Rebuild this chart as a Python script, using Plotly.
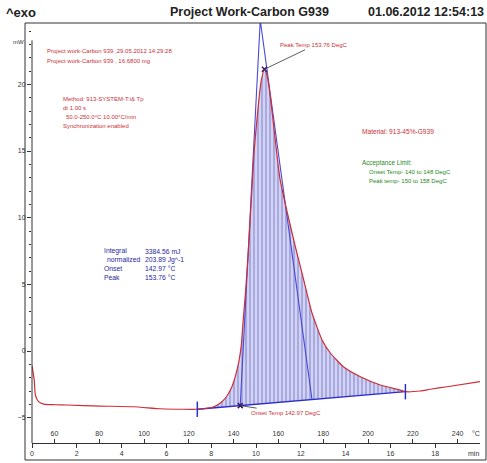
import plotly.graph_objects as go
import numpy as np

# ---------------- data ----------------
time_min = [0.0, 0.10, 0.15, 0.29, 0.52, 1.04, 1.56, 3.05, 4.54, 5.73, 6.75, 7.38,
            7.74, 8.09, 8.41, 8.67, 8.90, 9.08, 9.23, 9.34, 9.43, 9.54, 9.66, 9.79,
            9.92, 10.04, 10.15, 10.24, 10.376, 10.46, 10.57, 10.76, 10.91, 11.08, 11.40,
            11.76, 12.13, 12.50, 12.95, 13.32, 13.90, 14.66, 15.55, 16.44, 16.67,
            17.34, 17.78, 18.53, 20.0]
heat_flow_mw = [-1.1, -2.18, -3.30, -3.80, -3.98, -4.03, -4.05, -4.13, -4.18, -4.33, -4.37, -4.37,
                -4.31, -4.20, -3.90, -3.45, -2.78, -1.88, -0.83, 0.38, 2.33, 4.58, 7.58, 11.33,
                15.08, 17.33, 19.20, 20.33, 21.13, 20.86, 19.96, 17.33, 15.08, 12.83, 10.35,
                7.80, 5.33, 2.85, 0.83, -0.15, -1.18, -1.93, -2.55, -2.93, -3.05,
                -3.00, -2.87, -2.68, -2.30]

baseline_t = [7.38, 16.67]
baseline_mw = [-4.37, -3.05]

onset_temp = 142.97
peak_temp = 153.76
peak_mw = 21.13
tangent_apex_t = 10.19
tangent_apex_mw = 24.8
right_tangent_foot_t = 12.50

time_ticks = [0, 2, 4, 6, 8, 10, 12, 14, 16, 18]
temp_ticks = [60, 80, 100, 120, 140, 160, 180, 200, 220, 240]
mw_ticks = [-5, 0, 5, 10, 15, 20]

start_temp = 50.0   # °C
rate = 10.0         # °C/min

# ---------------- derived ----------------
def temp_to_time(T):
    return (T - start_temp) / rate

def base_at(t):
    return float(np.interp(t, baseline_t, baseline_mw))

onset_t = temp_to_time(onset_temp)
peak_t = temp_to_time(peak_temp)

t_arr = np.array(time_min)
m_arr = np.array(heat_flow_mw)
mask = (t_arr >= baseline_t[0]) & (t_arr <= baseline_t[1])

RED = "#cc2f38"
BLUE = "#2d2dc8"
FONT_N = "Liberation Sans Narrow, Arial Narrow, Liberation Sans, Arial, sans-serif"

fig = go.Figure()

# baseline
fig.add_trace(go.Scatter(x=baseline_t, y=baseline_mw, mode="lines",
                         line=dict(color=BLUE, width=1.3), hoverinfo="skip"))
# hatched integration area
fig.add_trace(go.Scatter(x=t_arr[mask], y=m_arr[mask], mode="lines",
                         line=dict(color="rgba(0,0,0,0)", width=0, shape="spline", smoothing=0.5),
                         fill="tonexty", fillcolor="#d2d3ee",
                         fillpattern=dict(shape="|", size=4, solidity=0.28,
                                          fgcolor="#3a3ac4", bgcolor="#d2d3ee"),
                         hoverinfo="skip"))
# tangents
fig.add_trace(go.Scatter(x=[onset_t, tangent_apex_t, right_tangent_foot_t],
                         y=[base_at(onset_t), tangent_apex_mw, base_at(right_tangent_foot_t)],
                         mode="lines", line=dict(color="#4a4ad6", width=1.1),
                         hoverinfo="skip"))
# DSC curve
fig.add_trace(go.Scatter(x=time_min, y=heat_flow_mw, mode="lines",
                         line=dict(color=RED, width=1.2, shape="spline", smoothing=0.5),
                         hoverinfo="skip"))
# baseline limit markers
fig.add_trace(go.Scatter(x=baseline_t, y=baseline_mw, mode="markers",
                         marker=dict(symbol="line-ns-open", size=11, color=BLUE,
                                     line=dict(color=BLUE, width=1.5)),
                         hoverinfo="skip"))
# onset / peak points
fig.add_trace(go.Scatter(x=[onset_t, peak_t], y=[base_at(onset_t), peak_mw], mode="markers",
                         marker=dict(symbol="x-thin-open", size=5, color="#3a1a6a",
                                     line=dict(color="#3a1a6a", width=1.5)),
                         hoverinfo="skip"))
# temperature axis carrier (no visible marks)
fig.add_trace(go.Scatter(x=temp_ticks, y=[None] * len(temp_ticks), xaxis="x2", mode="lines",
                         hoverinfo="skip", showlegend=False))

W, H = 487, 463
L, R, T, B = 32, 7, 23, 20
PW, PH = W - L - R, H - T - B


def px(x):
    return (x - L) / PW


def py(y):
    return (H - B - y) / PH


annotations = []


def txt(x, y, text, color, size=7.5, bold=False, xanchor="left", family=FONT_N):
    annotations.append(dict(x=px(x), y=py(y), xref="paper", yref="paper", text=(f"<b>{text}</b>" if bold else text),
                            showarrow=False, xanchor=xanchor, yanchor="middle",
                            font=dict(color=color, size=size, family=family)))


# header
txt(4, 12, "^exo", "#222222", size=13, bold=True)
txt(249, 12, "Project Work-Carbon G939", "#222222", size=12.5, bold=True, xanchor="center")
txt(486, 12, "01.06.2012 12:54:13", "#222222", size=12.5, bold=True, xanchor="right")

# info texts
txt(45, 51, "Project work-Carbon 939 ,29.05.2012 14:29:28", RED, size=6)
txt(45, 61, "Project work-Carbon 939 , 16.6800 mg", RED, size=6)
txt(61, 99, "Method: 913-SYSTEM-T:i& Tp", RED, size=6)
txt(61, 108, "dt 1.00 s", RED, size=6)
txt(64, 117, "50.0-250.0°C 10.00°C/min", RED, size=6)
txt(61, 126, "Synchronization enabled", RED, size=6)

BL = "#1f1fa0"
txt(102, 251, "Integral", BL, size=6.8)
txt(105, 259.5, "normalized", BL, size=6.8)
txt(102, 268, "Onset", BL, size=6.8)
txt(102, 277, "Peak", BL, size=6.8)
txt(143, 251, "3384.56 mJ", BL, size=6.8)
txt(143, 259.5, "203.89 Jg^-1", BL, size=6.8)
txt(143, 268, "142.97 °C", BL, size=6.8)
txt(143, 277, "153.76 °C", BL, size=6.8)

txt(360, 131, "Material: 913-45%-G939", RED, size=6.6)
GR = "#1e8a22"
txt(360, 163, "Acceptance Limit:", GR, size=6.3)
txt(367, 172, "Onset Temp- 140 to 148 DegC", GR, size=6)
txt(367, 180.5, "Peak temp- 150 to 158 DegC", GR, size=6)

# axis unit labels
txt(18, 42, "mW", "#333333", size=6, xanchor="center")
txt(476, 433, "°C", "#333333", size=7, xanchor="center")
txt(473, 454, "min", "#333333", size=7, xanchor="center")

# peak / onset labels with leaders
annotations.append(dict(x=peak_t, y=peak_mw, xref="x", yref="y", text="Peak Temp 153.76 DegC",
                        showarrow=True, arrowhead=0, arrowwidth=0.8, arrowcolor="#333333",
                        ax=50, ay=-24, font=dict(color=RED, size=6, family=FONT_N)))
annotations.append(dict(x=onset_t, y=base_at(onset_t), xref="x", yref="y", text="Onset Temp 142.97 DegC",
                        showarrow=True, arrowhead=0, arrowwidth=0.8, arrowcolor="#333333",
                        ax=46, ay=7, font=dict(color=RED, size=6, family=FONT_N)))

shapes = [
    # outer frame
    dict(type="rect", xref="paper", yref="paper", x0=px(25), x1=px(486), y0=py(460), y1=py(23),
         line=dict(color="#333333", width=1)),
    # y axis line
    dict(type="line", xref="paper", yref="y", x0=0, x1=0, y0=-6.9, y1=23.3,
         line=dict(color="#333333", width=1)),
]

fig.update_layout(
    width=W, height=H, margin=dict(l=L, r=R, t=T, b=B),
    paper_bgcolor="white", plot_bgcolor="white", showlegend=False,
    annotations=annotations, shapes=shapes,
    font=dict(family=FONT_N, color="#333333"),
    xaxis=dict(range=[0, 20], tickvals=time_ticks, ticks="outside", ticklen=4,
               tickcolor="#333333", showline=True, linecolor="#333333", linewidth=1,
               showgrid=False, zeroline=False, tickfont=dict(size=7, color="#333333")),
    xaxis2=dict(range=[start_temp, start_temp + 20 * rate], overlaying="x", anchor="y", side="bottom",
                tickvals=temp_ticks, ticks="inside", ticklen=4, tickcolor="#333333",
                ticklabelposition="inside", showline=False, showgrid=False, zeroline=False,
                tickfont=dict(size=7, color="#333333")),
    yaxis=dict(range=[-6.9, 24.6], tickvals=mw_ticks, ticks="outside", ticklen=4,
               tickcolor="#333333", showline=False, showgrid=False, zeroline=False,
               tickfont=dict(size=7, color="#333333"),
               minor=dict(dtick=1, ticks="outside", ticklen=2, tickcolor="#333333")),
)

fig.write_html("out.html", config={"displayModeBar": False},
               post_script="document.body.style.margin='0';")
